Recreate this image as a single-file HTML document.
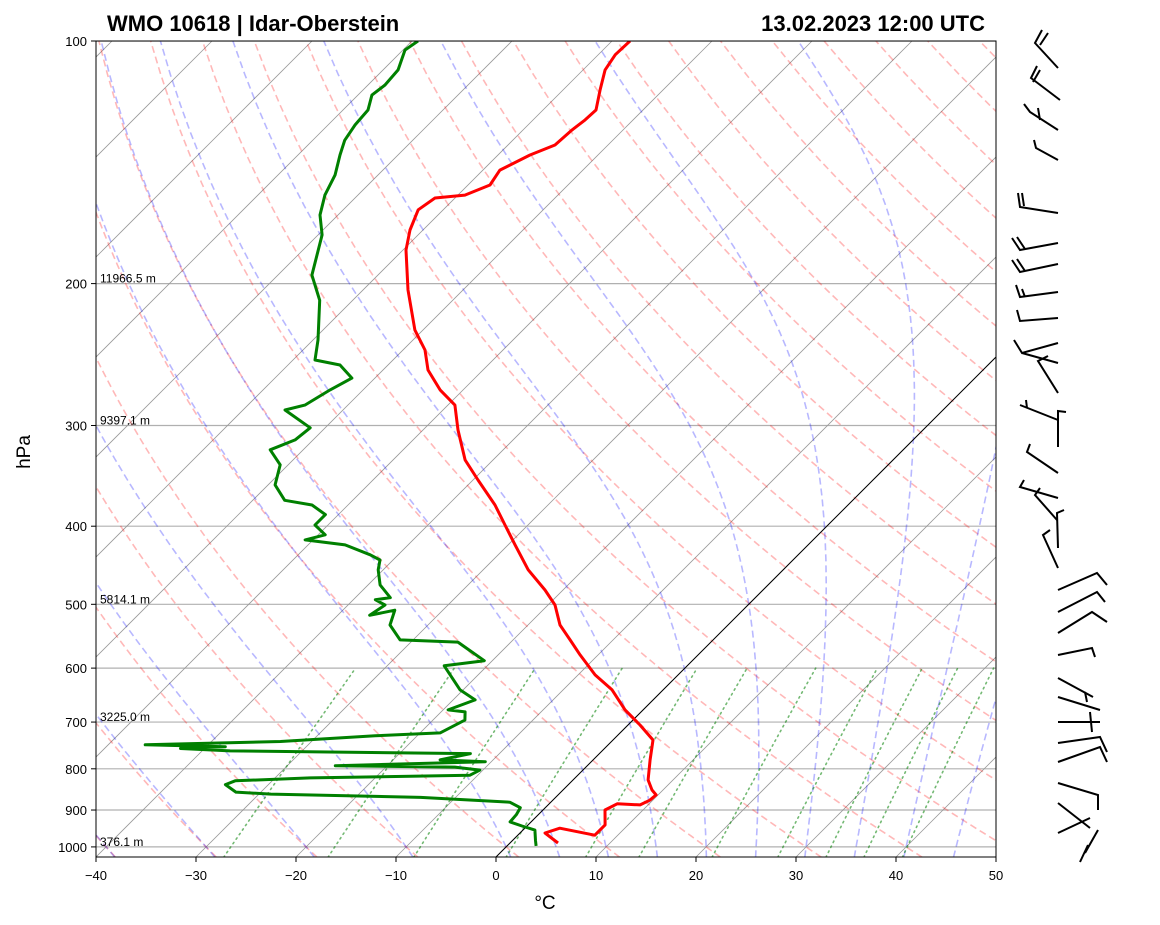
<!DOCTYPE html>
<html><head><meta charset="utf-8"><style>
body{margin:0;background:#fff;}
svg{display:block;font-family:"Liberation Sans","DejaVu Sans",sans-serif;}
</style></head><body>
<svg id="chart" width="1160" height="925" viewBox="0 0 1160 925">
<defs><clipPath id="clip"><rect x="96" y="41" width="900" height="816"/></clipPath></defs>
<rect x="0" y="0" width="1160" height="925" fill="#fff"/>
<g id="bg" clip-path="url(#clip)"></g>
<g id="series" clip-path="url(#clip)"></g>
<rect x="96" y="41" width="900" height="816" fill="none" stroke="#000" stroke-width="1"/>
<g id="axes"></g>
<text x="107" y="31" font-size="22" font-weight="bold">WMO 10618 | Idar-Oberstein</text>
<text x="985" y="31" font-size="22" font-weight="bold" text-anchor="end">13.02.2023 12:00 UTC</text>
<text x="545" y="909" font-size="19" text-anchor="middle">°C</text>
<text x="30" y="452" font-size="19" text-anchor="middle" transform="rotate(-90 30 452)">hPa</text>
<g id="barbs" stroke="#000" stroke-width="2" fill="none"></g>
</svg>
<script>
const tempP=[100,104,108.6,115,121.8,125.3,128.9,134.6,138.5,144.6,150.9,155.3,156.6,162,171.6,181.7,203.7,228.4,241.8,256,271,283,303.9,331,350.5,376.5,398.6,422,453,480,501,530.5,553.6,577.8,611.8,638.6,676,705.9,736.7,780,825.8,850,862,875,887,884,900,939,967,948,961,989];
const tempT=[-68.2,-68.3,-67.8,-66.3,-64.7,-64.8,-65.1,-65.3,-66.8,-68.3,-67.8,-69.3,-72,-72.5,-71.3,-69.7,-65.5,-60.8,-57.8,-55.5,-52.3,-49.3,-46.5,-42.8,-39.5,-35.3,-32.3,-29.3,-25.5,-21.8,-19.3,-16.8,-14.3,-11.8,-8.3,-5.1,-1.8,1.2,4,5.7,7.5,8.9,9.8,9.7,9.2,6.8,6.2,7.7,7.7,3.5,2.5,4.8];
const dewP=[100,102.6,108.6,113.4,116.7,121.8,127.1,132.8,138.5,146.6,155.3,164.4,174,195.2,209.8,235,248.8,252.4,262,271,283,287,302,312.6,321.6,335.6,355.5,371.5,376.5,387,398.6,410,416,422,434,440.6,453,473,490.6,493.5,501,516,508.5,530.5,553.6,557,570.4,587.5,596,638.6,657,676,680,696,722,728,740,747,751,755,760,766,780,784,793,796,803,815,821,828,837,855,860,868,880,894,912,931,942,953,982,997];
const dewT=[-89.4,-89.8,-88.5,-88.3,-88.6,-87.5,-87.3,-86.8,-85.8,-84.3,-83.3,-81.8,-79.6,-76.6,-73.3,-69.5,-67.8,-64.8,-62.3,-63.3,-64.3,-65.8,-61.5,-61.8,-63.3,-60.8,-59.3,-56.8,-53.6,-51.3,-51.3,-49.3,-50.8,-46.3,-42.8,-41.3,-40.5,-38.8,-36.5,-37.8,-36.3,-36.8,-34.8,-33.8,-31.3,-25.3,-23.3,-20.8,-24.3,-20.3,-17.8,-19.5,-17.6,-16.8,-18,-24.2,-33.1,-46.3,-38.1,-42.4,-37.2,-12.9,-15.3,-10.6,-25.2,-13.1,-10.3,-10.8,-26.5,-33.7,-34.3,-32.5,-28.8,-13.5,-4.1,-2.5,-2.2,-2.1,-0.5,1.2,2.3,2.9];
const xTicks=[-40,-30,-20,-10,0,10,20,30,40,50];
const yTicks=[100,200,300,400,500,600,700,800,900,1000];
const heightP=[200,300,500,700,1000];
const heightLabels=["11966.5 m","9397.1 m","5814.1 m","3225.0 m","376.1 m"];
const NS='http://www.w3.org/2000/svg';
function yOf(p){return 41+350*Math.log(p/100);}
function xOf(T,p){return 496+10*T+(857-yOf(p));}
function mk(tag,attrs,parent){const e=document.createElementNS(NS,tag);for(const k in attrs)e.setAttribute(k,attrs[k]);parent.appendChild(e);return e;}
const bg=document.getElementById('bg'),ser=document.getElementById('series'),ax=document.getElementById('axes'),bb=document.getElementById('barbs');
function path(pts){return 'M'+pts.map(q=>q[0].toFixed(1)+','+q[1].toFixed(1)).join('L');}
// horizontal isobars
for(const p of yTicks){const l=mk('line',{x1:96,x2:996,y1:yOf(p),y2:yOf(p),stroke:'#b0b0b0','stroke-width':1.2},bg);

}
// isotherms
for(let T=-140;T<=50;T+=10){const l=mk('line',{x1:xOf(T,1030),y1:yOf(1030),x2:xOf(T,100),y2:yOf(100),stroke:'#999','stroke-width':0.8},bg);

}
// dry adiabats
for(let t0=-40;t0<=200;t0+=10){const th=t0+273.15,pts=[];for(let p=1030;p>=99;p-=10)pts.push([xOf(th*Math.pow(p/1000,0.2857)-273.15,p),yOf(p)]);
const e=mk('path',{d:path(pts),fill:'none',stroke:'rgba(255,0,0,0.28)','stroke-width':1.6,'stroke-dasharray':'7,4'},bg);

}
// moist adiabats
function es(T){return 6.112*Math.exp(17.67*T/(T+243.5));}
function dTdp(T,p){const Tk=T+273.15,rs=0.622*es(T)/(p-es(T)),Lv=2.501e6,Rd=287.04,Cp=1005.7;return (1/p)*(Rd*Tk+Lv*rs)/(Cp+Lv*Lv*rs*0.622/(Rd*Tk*Tk));}
const moist0=[-50,-40,-30,-20,-10,0,5,10,15,20,25,30,35,40,45];
for(const t0 of moist0){let pts=[],T=t0;const dn=[];let Td=t0;for(let p=1000;p<1030;p+=2){Td+=dTdp(Td,p)*2;}
pts.push([xOf(Td,1030),yOf(1030)]);T=t0;for(let p=1000;p>=100;p-=2){if(p%10==0)pts.push([xOf(T,p),yOf(p)]);T-=dTdp(T,p)*2;}
const e=mk('path',{d:path(pts),fill:'none',stroke:'rgba(0,0,255,0.28)','stroke-width':1.6,'stroke-dasharray':'7,4'},bg);

}
// mixing ratio
const mixW=[0.0004,0.001,0.002,0.004,0.007,0.01,0.016,0.024,0.032,0.04,0.05];
for(const w of mixW){const pts=[];for(let p=1030;p>=600;p-=10){const e=w*p/(0.622+w),l=Math.log(e/6.112),Td=243.5*l/(17.67-l);pts.push([xOf(Td,p),yOf(p)]);}
const e=mk('path',{d:path(pts),fill:'none',stroke:'rgba(0,128,0,0.55)','stroke-width':1.6,'stroke-dasharray':'1.5,4','stroke-linecap':'round'},bg);

}
// 0C line
const z=mk('line',{x1:xOf(0,1030),y1:yOf(1030),x2:xOf(0,100),y2:yOf(100),stroke:'#000','stroke-width':1},bg);


// profiles
const tp=mk('path',{d:path(tempP.map((p,i)=>[xOf(tempT[i],p),yOf(p)])),fill:'none',stroke:'#f00','stroke-width':3,'stroke-linejoin':'round'},ser);


const dp=mk('path',{d:path(dewP.map((p,i)=>[xOf(dewT[i],p),yOf(p)])),fill:'none',stroke:'#008000','stroke-width':3,'stroke-linejoin':'round'},ser);


// height labels
heightP.forEach((p,i)=>{const t=mk('text',{x:100,y:yOf(p)-1,'font-size':12},ax);t.textContent=heightLabels[i];

});
// ticks
for(const T of xTicks){const x=496+10*T;mk('line',{x1:x,x2:x,y1:857,y2:862,stroke:'#000'},ax);
const t=mk('text',{x:x,y:880,'font-size':13,'text-anchor':'middle'},ax);t.textContent=(T<0?'\u2212'+(-T):T);

}
for(const p of yTicks){const y=yOf(p);mk('line',{x1:91,x2:96,y1:y,y2:y,stroke:'#000'},ax);
const t=mk('text',{x:87,y:y+5,'font-size':13,'text-anchor':'end'},ax);t.textContent=p;

}
// wind barbs (approximate shapes)
const barbShapes=[
[[1058,68],[1035,43],[1042,30]],[[1040,45],[1048,33]],
[[1060,100],[1031,78],[1037,66]],[[1033,82],[1040,70]],
[[1058,130],[1030,112],[1024,104]],[[1040,120],[1038,108]],
[[1058,160],[1036,148],[1034,140]],
[[1058,213],[1020,207],[1018,193]],[[1024,206],[1022,193]],
[[1058,243],[1020,250],[1012,238]],[[1025,249],[1017,237]],
[[1058,264],[1020,272],[1012,260]],[[1025,271],[1017,259]],
[[1058,292],[1020,297],[1016,285]],[[1025,297],[1022,289]],
[[1058,318],[1020,321],[1017,310]],
[[1058,343],[1022,353],[1014,340]],[[1022,353],[1058,363]],
[[1058,393],[1038,361],[1048,356]],
[[1058,447],[1058,411],[1066,412]],[[1020,405],[1058,420]],[[1026,400],[1027,408]],
[[1058,473],[1027,452],[1030,444]],
[[1058,498],[1020,487],[1024,480]],[[1057,520],[1035,495],[1040,488]],
[[1058,548],[1057,513],[1064,510]],
[[1058,568],[1043,535],[1050,530]],
[[1058,590],[1097,573],[1107,585]],
[[1058,612],[1097,592],[1105,602]],
[[1058,633],[1092,612],[1107,622]],
[[1058,655],[1092,648],[1095,657]],
[[1058,678],[1093,697]],[[1085,692],[1087,702]],
[[1058,697],[1100,710]],[[1058,722],[1100,722]],[[1090,712],[1092,732]],
[[1058,743],[1100,737],[1107,752]],
[[1058,762],[1100,747],[1107,762]],
[[1058,783],[1098,795],[1098,810]],
[[1058,803],[1090,828]],[[1058,833],[1090,818]],[[1080,862],[1088,845]],[[1085,853],[1098,830]]
];
for(const s of barbShapes){const e=mk('polyline',{points:s.map(q=>q.join(',')).join(' ')},bb);

}
</script>
</body></html>
